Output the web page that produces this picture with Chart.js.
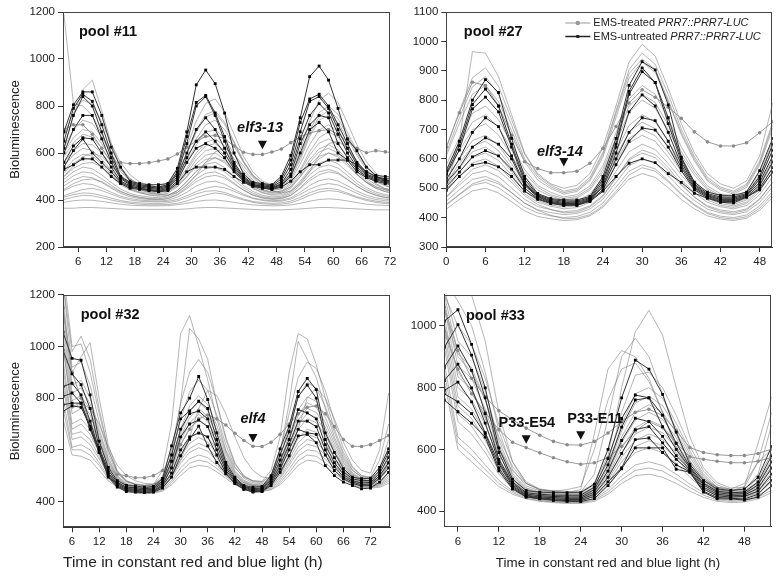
<!DOCTYPE html>
<html>
<head>
<meta charset="utf-8">
<script src="https://cdn.jsdelivr.net/npm/chart.js@4.4.0/dist/chart.umd.min.js"></script>
<style>
    body { margin: 0; background: #fff; width: 780px; height: 578px; position: relative; overflow: hidden; }
    canvas { position: absolute; }
</style>
</head>
<body>
<canvas id="c11" width="400" height="285" style="left:0;top:0"></canvas>
<canvas id="c27" width="390" height="285" style="left:390px;top:0"></canvas>
<canvas id="c32" width="400" height="293" style="left:0;top:285px"></canvas>
<canvas id="c33" width="390" height="293" style="left:390px;top:285px"></canvas>
<script>
// ---- pool #11 ----
const times11 = [3,5,7,9,11,13,15,17,19,21,23,25,27,29,31,33,35,37,39,41,43,45,47,49,51,53,55,57,59,61,63,65,67,69,71,73];
const xTicks11 = [6,12,18,24,30,36,42,48,54,60,66,72];
const yTicks11 = [200,400,600,800,1000,1200];
const gray11 = [
    [365,365,368,368,366,364,362,360,360,360,360, 360,360,362,366,368,368,366,364,362,360,358,358, 358,360,362,365,368,368,366,364,362,360,358,358,358],
    [390,397,400,399,394,388,382,378,376,375,375, 376,380,386,394,399,400,396,390,384,379,377,375, 376,379,386,395,402,405,402,396,389,382,379,377,376],
    [402,412,420,418,410,400,392,386,382,380,380, 381,386,396,410,422,430,425,412,400,390,384,381, 382,388,402,420,434,440,436,424,410,398,390,385,382],
    [412,423,430,428,419,408,398,391,388,386,385, 388,396,410,426,437,440,432,418,404,394,389,386, 388,395,411,431,445,450,444,429,414,403,395,390,388],
    [418,432,445,450,440,425,410,400,395,393,392, 394,402,418,436,450,458,452,437,420,406,398,394, 395,404,424,446,462,470,464,447,428,412,402,397,395],
    [440,459,470,466,451,433,416,406,400,397,395, 399,412,433,459,476,480,467,446,425,409,401,397, 399,409,433,462,482,490,481,460,438,421,409,403,400],
    [445,470,485,490,478,455,434,420,410,405,402, 406,421,448,478,498,505,494,468,442,422,410,405, 407,420,448,482,507,520,512,486,458,436,420,411,407],
    [460,485,500,495,475,450,428,414,406,402,400, 406,424,454,490,514,520,502,472,442,420,408,402, 405,420,452,491,520,530,517,488,459,435,420,410,407],
    [474,503,520,514,491,463,437,421,412,407,405, 412,432,466,506,533,540,520,486,452,428,414,408, 411,427,463,507,538,550,536,504,470,444,427,417,412],
    [488,520,540,533,507,475,446,428,418,413,410, 418,440,478,522,552,560,538,500,462,436,420,413, 416,434,474,522,557,570,554,519,482,453,434,423,418],
    [500,535,555,560,540,505,470,447,432,421,416, 420,440,478,522,560,580,565,525,480,448,430,420, 422,440,480,530,575,600,590,555,510,475,450,435,428],
    [516,556,580,572,540,500,465,442,430,423,420, 429,456,501,555,591,600,573,528,483,451,433,424, 428,450,500,560,604,620,600,556,510,474,450,436,430],
    [500,545,585,600,585,545,500,465,445,432,424, 422,432,462,505,560,605,620,595,545,495,460,440, 430,438,468,520,590,640,650,620,565,510,470,448,438],
    [527,570,595,587,553,510,473,449,435,428,425, 435,464,513,571,610,620,591,542,493,458,439,429, 433,457,509,572,618,635,614,568,520,482,457,442,436],
    [544,592,620,611,573,525,483,457,441,434,430, 441,472,525,588,630,640,609,556,504,466,445,434, 439,465,522,591,642,660,637,586,534,492,465,448,442],
    [560,610,640,635,600,550,500,468,450,440,436, 445,478,535,600,645,660,630,575,520,478,455,442, 446,472,530,605,665,690,668,618,560,512,478,460,450],
    [584,644,680,668,620,560,507,474,454,445,440, 453,492,557,635,687,700,661,596,531,484,458,445, 451,482,552,636,698,720,692,630,566,516,482,462,454],
    [600,665,700,690,640,580,520,482,462,450,446, 456,500,570,660,720,740,700,630,560,500,468,452, 456,490,570,670,740,760,730,660,590,530,492,470,460],
    [624,697,740,726,668,595,531,491,467,456,450, 466,516,598,698,764,780,730,648,566,506,473,457, 464,503,590,695,772,800,765,688,608,545,503,478,468],
    [677,770,825,807,733,640,559,507,477,462,455, 474,530,624,736,811,830,774,680,586,519,481,463, 471,515,615,735,823,855,815,727,635,563,515,487,475],
    [1190,810,800,760,680,600,530,480,455,440,435, 438,460,498,543,573,580,558,520,483,456,441,433, 437,456,498,549,586,600,583,546,507,476,456,444,439],
    [620,760,870,910,780,640,540,490,465,455,450, 466,514,594,690,754,770,722,642,562,504,472,456, 463,500,582,681,754,780,747,674,599,539,500,476,467]
];
const black11 = [
    [690,805,860,860,760,625,540,480,470,465,465, 470,535,690,890,953,895,770,600,510,475,470,465, 500,590,750,925,970,910,790,660,610,540,505,500,495],
    [650,790,850,820,720,600,500,475,465,460,455, 465,520,670,815,845,770,670,560,500,470,465,460, 490,570,730,830,850,800,720,640,560,520,500,490,490],
    [620,760,840,800,690,580,495,470,460,455,450, 460,510,640,800,840,760,650,550,495,465,460,455, 480,550,690,820,840,790,700,620,550,510,495,485,480],
    [600,700,760,760,660,560,490,465,455,450,445, 455,500,600,700,750,700,620,540,490,465,458,452, 470,530,660,760,810,770,680,600,540,505,490,480,475],
    [560,630,665,660,600,540,480,460,450,445,440, 450,490,580,650,690,650,600,530,485,462,455,450, 465,510,640,720,760,750,640,580,530,500,485,475,470],
    [540,610,660,600,560,520,475,455,448,442,438, 445,480,560,620,640,620,580,520,480,460,452,447, 460,500,600,700,730,690,600,570,520,495,480,470,465],
    [530,550,575,575,540,500,470,450,445,440,435, 440,470,520,540,540,540,530,500,475,458,450,445, 455,480,520,550,550,570,570,570,550,520,500,485,480]
];
const mutant11 = [700,720,720,680,620,563,559,555,555,559,566, 575,596,625,650,670,675,660,630,603,594,594,604, 617,644,669,685,695,700,680,650,620,601,610,605,600];

// ---- pool #27 ----
const times27 = [0,2,4,6,8,10,12,14,16,18,20,22,24,26,28,30,32,34,36,38,40,42,44,46,48,50];
const xTicks27 = [0,6,12,18,24,30,36,42,48];
const yTicks27 = [300,400,500,600,700,800,900,1000,1100];
const gray27 = [
    [429,462,491,500,484,454,423,404,396,390,393,406,435,483,531,550,537,502,462,430,406,395,390,398,425,470],
    [442,478,510,520,502,470,436,416,406,400,404,418,450,504,558,580,566,526,481,445,418,405,400,409,440,490],
    [445,480,515,530,515,485,450,425,408,396,398,410,440,490,545,570,558,522,478,442,414,400,395,403,432,480],
    [456,495,530,540,521,485,449,427,417,410,414,429,463,520,577,600,585,543,496,458,429,416,410,420,452,505],
    [469,511,549,560,539,501,462,438,427,420,424,440,476,536,596,620,604,560,510,470,440,426,420,430,464,520],
    [470,520,565,580,560,520,475,445,428,416,419,436,472,535,600,630,615,570,515,470,437,421,415,426,462,520],
    [490,541,586,600,575,529,481,452,439,430,434,452,492,558,624,650,632,584,529,485,452,437,430,441,478,540],
    [495,555,605,620,595,545,490,458,443,436,440,460,505,580,655,680,660,605,545,495,460,442,435,448,488,560],
    [510,570,624,640,610,556,500,466,450,440,445,466,513,591,669,700,679,622,557,505,466,448,440,453,497,570],
    [518,585,643,660,628,570,510,474,456,445,450,473,524,608,692,725,703,641,572,515,473,453,445,460,507,585],
    [531,600,662,680,646,583,519,480,462,450,456,480,534,624,714,750,726,660,585,525,480,459,450,465,516,600],
    [551,629,699,720,681,611,538,494,473,460,467,494,555,657,759,800,773,698,613,545,494,470,460,477,535,630],
    [565,650,725,750,708,630,552,503,478,465,472,500,565,672,780,820,792,715,625,555,500,475,465,482,545,645],
    [579,672,755,780,734,650,563,510,486,470,478,508,576,690,804,850,820,736,641,565,508,481,470,489,554,660],
    [610,721,820,850,795,695,591,528,499,480,489,525,606,741,876,930,894,795,683,593,525,494,480,503,579,705],
    [620,740,845,880,820,715,600,538,505,485,494,530,615,755,890,940,905,800,690,600,530,499,485,509,586,715],
    [637,763,876,910,847,734,616,545,511,490,499,537,622,763,904,960,922,819,702,608,537,504,490,514,593,725],
    [500,660,965,960,880,750,620,550,515,500,510,550,640,780,930,990,950,840,720,620,550,515,500,525,610,790]
];
const black27 = [
    [560,660,800,870,826,670,540,482,465,460,460,472,540,670,850,931,903,784,606,521,487,476,476,487,560,670],
    [550,645,785,838,780,650,530,478,462,456,456,468,530,650,830,910,860,740,600,515,482,470,470,482,540,650],
    [545,630,770,810,760,640,520,475,458,452,452,465,520,640,820,897,860,720,590,510,478,466,466,478,530,630],
    [530,600,690,740,710,610,515,472,455,448,448,462,510,620,760,818,780,690,580,505,475,462,462,475,520,610],
    [520,570,640,672,650,600,510,470,452,445,445,460,505,600,690,740,730,660,570,500,472,458,458,472,510,590],
    [505,555,607,628,610,565,500,465,450,443,443,458,495,580,660,705,698,640,560,495,468,455,455,470,500,570],
    [493,540,579,588,573,540,490,462,448,442,442,455,490,540,585,600,587,550,520,483,466,452,450,470,495,555]
];
const mutant27 = [640,757,861,850,780,680,590,567,553,553,558,585,636,710,790,835,810,776,738,692,658,644,644,655,689,727];

// ---- pool #32 ----
const times32 = [4,6,8,10,12,14,16,18,20,22,24,26,28,30,32,34,36,38,40,42,44,46,48,50,52,54,56,58,60,62,64,66,68,70,72,74,76];
const xTicks32 = [6,12,18,24,30,36,42,48,54,60,66,72];
const yTicks32 = [400,600,800,1000,1200];
const gray32 = [
    [720,580,575,560,520,480,455,440,432,430, 432,440,465,500,530,540,535,515,490,465, 448,440,438,445,465,500,540,560,555,535, 510,485,465,455,452,455,470],
    [760,600,600,580,540,488,458,442,435,432, 434,444,472,515,548,560,552,528,498,470, 451,442,440,448,472,512,558,580,575,550, 520,492,470,458,455,459,478],
    [800,610,620,600,550,495,462,445,437,435, 437,448,480,530,565,580,570,540,505,475, 455,445,443,452,480,525,575,600,595,565, 530,498,475,462,458,463,485],
    [850,640,650,620,565,505,468,448,440,438, 440,452,490,548,590,608,595,558,513,480, 458,448,446,456,488,540,595,622,612,580, 540,503,478,465,460,466,492],
    [880,660,670,640,575,510,470,450,442,440, 442,455,495,560,605,625,610,570,520,484, 460,450,448,460,495,550,610,640,630,595, 550,510,483,468,463,470,500],
    [920,680,700,660,590,518,474,453,445,442, 444,458,502,575,625,648,630,585,530,488, 462,452,450,463,503,562,628,660,648,610, 560,516,486,470,465,473,508],
    [950,700,720,680,600,525,478,455,447,444, 446,462,510,590,645,670,650,600,538,492, 465,454,452,466,510,575,645,680,668,625, 570,522,490,473,468,477,515],
    [1000,740,760,715,625,540,485,460,451,448, 450,468,525,620,685,715,690,630,555,500, 470,458,456,472,525,600,680,720,705,655, 590,535,497,478,472,484,530],
    [1050,765,785,735,638,548,488,462,453,450, 452,472,532,635,705,738,710,645,563,504, 472,460,458,475,532,612,698,740,725,672, 600,540,500,480,474,487,538],
    [1100,790,810,755,650,555,492,465,455,452, 454,475,540,650,725,760,730,660,572,508, 475,462,460,478,540,625,715,760,745,688, 612,548,504,483,476,490,545],
    [1150,820,840,778,665,562,496,467,457,454, 456,478,548,665,748,785,752,678,585,514, 478,464,462,481,548,640,735,782,765,705, 625,555,508,485,478,493,552],
    [1200,850,870,800,680,570,500,470,460,456, 458,482,555,680,770,810,775,695,595,520, 482,467,464,485,555,655,755,805,788,725, 638,563,512,488,480,497,560],
    [1250,920,940,850,710,585,508,476,465,460, 462,490,575,720,825,870,830,735,620,535, 490,472,468,492,575,690,805,860,840,768, 668,580,522,494,485,505,580],
    [1300,1000,1010,900,740,600,515,480,468,463, 466,498,600,780,900,950,900,785,650,550, 497,477,473,500,600,740,880,940,915,830, 710,605,535,500,490,515,610],
    [1250,980,1040,950,760,600,515,478,466,462, 466,520,700,1050,1120,1000,870,720,600,530, 495,480,478,520,650,900,1050,1030,930,800, 680,590,530,500,495,560,700],
    [1150,900,960,1015,800,620,520,480,466,462, 464,490,580,780,1070,1030,950,780,640,545, 500,480,477,500,590,780,1020,950,880,760, 650,570,520,495,490,530,640],
    [1000,760,780,760,700,610,540,500,480,470, 468,475,500,560,650,760,830,810,740,650, 570,520,495,490,510,570,680,800,840,800, 720,630,560,520,510,600,820]
];
const black32 = [
    [1056,954,947,813,634,532,481,462,460,455, 458,489,615,743,800,884,795,666,551,494, 462,455,458,500,604,692,826,877,833,666, 590,527,494,488,490,532,604],
    [986,894,852,760,610,520,475,455,453,450, 452,480,580,720,751,788,760,640,540,488, 458,450,452,490,580,670,807,851,800,640, 570,515,488,480,482,520,590],
    [845,858,813,711,600,510,470,450,448,445, 447,472,555,680,740,750,720,620,530,482, 455,446,448,482,560,640,756,743,720,620, 550,505,480,472,474,510,570],
    [807,820,781,679,590,505,465,446,444,440, 442,465,530,650,700,715,690,600,520,478, 452,442,444,475,540,620,711,711,690,600, 535,495,475,465,468,500,550],
    [775,781,781,690,600,500,460,442,440,436, 438,460,510,600,650,665,650,580,510,472, 448,438,440,468,525,600,679,666,660,580, 520,488,470,460,462,490,530],
    [749,770,765,690,590,494,456,438,436,434, 436,452,494,577,641,692,615,551,507,469, 447,436,438,462,513,577,654,660,628,539, 500,475,462,449,452,475,513]
];
const mutant32 = [1150,900,800,700,600,530,505,500,492,492, 500,520,560,620,680,720,735,720,696,664, 636,614,613,629,660,700,740,765,770,740, 690,640,614,613,620,636,655];

// ---- pool #33 ----
const times33 = [4,6,8,10,12,14,16,18,20,22,24,26,28,30,32,34,36,38,40,42,44,46,48,50,52];
const xTicks33 = [6,12,18,24,30,36,42,48];
const yTicks33 = [400,600,800,1000];
const gray33 = [
    [820,600,560,520,480,455,440,432,428,425, 425,432,455,490,515,520,510,490,465,445, 432,428,430,440,460],
    [850,620,580,535,490,460,443,434,430,428, 428,436,462,502,532,540,530,505,477,452, 437,432,434,445,468],
    [880,640,600,550,500,465,447,437,432,430, 430,440,470,515,550,560,548,520,488,460, 442,436,438,450,478],
    [930,690,650,590,520,475,452,442,437,435, 435,448,485,545,590,605,590,555,510,472, 450,443,444,458,495],
    [955,715,675,610,532,481,455,444,439,437, 437,451,492,560,610,628,612,572,520,478, 454,446,447,462,502],
    [980,740,700,630,545,487,458,447,442,440, 440,455,500,575,630,650,632,590,532,484, 458,449,450,466,510],
    [1005,770,730,655,558,492,461,449,444,442, 442,458,507,590,650,672,654,606,542,490, 462,452,453,470,518],
    [1030,800,760,680,570,498,464,452,447,445, 445,462,515,605,670,695,675,622,552,495, 465,455,456,475,525],
    [1060,835,795,705,585,504,467,454,449,447, 447,466,522,622,695,720,698,638,563,502, 468,457,459,480,535],
    [1080,870,830,730,600,510,470,457,452,450, 450,470,530,640,720,745,720,655,575,508, 472,460,462,485,545],
    [1100,910,865,760,615,516,473,459,454,452, 452,474,538,660,750,772,742,670,585,514, 475,462,464,490,555],
    [1120,950,900,790,630,522,476,462,457,455, 455,478,545,680,780,800,765,685,595,520, 478,465,467,495,565],
    [1150,1080,1000,850,660,535,482,466,461,459, 459,485,560,720,840,850,800,710,610,530, 485,470,472,505,590],
    [1150,1100,1100,950,720,560,490,470,465,462, 462,520,700,900,960,900,780,650,560,505, 478,468,470,520,680],
    [1100,1000,940,830,680,560,495,472,466,464, 464,490,580,800,980,1050,970,800,640,540, 492,475,478,560,720],
    [1050,900,850,760,640,545,490,470,462,460, 470,650,860,920,900,830,720,600,530,490, 470,465,480,620,770],
    [1000,850,790,700,600,530,490,470,465,470, 480,600,760,860,880,820,720,610,540,500, 478,472,490,560,600]
];
const black33 = [
    [1015,1052,940,799,605,504,467,462,460,460, 460,488,600,767,889,860,778,656,552,499, 472,467,472,510,610],
    [930,1004,905,767,590,495,460,455,452,452, 452,478,570,700,776,767,711,620,545,490, 465,460,462,495,580],
    [866,935,856,716,568,490,456,450,448,446, 446,470,550,672,760,767,674,600,540,485, 460,455,457,485,560],
    [823,876,799,685,560,485,452,446,444,442, 442,462,530,629,701,690,642,580,535,478, 455,450,452,475,540],
    [791,818,754,654,554,480,450,443,440,438, 438,455,510,587,664,674,621,568,530,472, 450,446,448,465,520],
    [780,754,716,650,540,476,447,441,437,434, 434,448,495,540,632,637,590,550,528,465, 445,442,440,455,500],
    [760,722,685,640,531,472,446,440,435,432, 431,441,483,537,605,605,605,536,526,462, 440,440,436,446,483]
];
const mutantE54 = [1060,920,830,770,725,696,669,646,626,615, 614,626,653,690,720,730,710,660,606,590, 583,580,580,587,601];
const mutantE11 = [980,860,780,720,664,623,606,589,573,560, 552,557,573,610,660,690,670,620,576,568, 562,557,557,562,574];

const FONT = '"Liberation Sans", Arial, sans-serif';
const X_TITLE = 'Time in constant red and blue light (h)';
const Y_TITLE = 'Bioluminescence';

function pts(times, values) {
    return values.map((v, i) => ({x: times[i], y: v}));
}

const notesPlugin = {
    id: 'notes',
    afterDatasetsDraw(chart, args, opts) {
        const {ctx, chartArea: area, scales: {x, y}} = chart;
        ctx.save();
        ctx.strokeStyle = '#444';
        ctx.lineWidth = 1;
        ctx.strokeRect(Math.round(area.left) + 0.5, Math.round(area.top) + 0.5,
            Math.round(area.width) - 1, Math.round(area.height) - 1);
        ctx.fillStyle = '#111';
        ctx.font = 'bold 14.5px ' + FONT;
        ctx.textAlign = 'left';
        ctx.textBaseline = 'alphabetic';
        ctx.fillText(opts.pool, area.left + opts.poolDx, area.top + opts.poolDy);
        opts.marks.forEach(m => {
            ctx.font = (m.italic ? 'italic ' : '') + 'bold 14.5px ' + FONT;
            ctx.textAlign = 'center';
            ctx.textBaseline = 'middle';
            ctx.fillText(m.text, x.getPixelForValue(m.tx), y.getPixelForValue(m.ty));
            const px = x.getPixelForValue(m.ax), py = y.getPixelForValue(m.ay);
            ctx.beginPath();
            ctx.moveTo(px - 4.5, py - 4);
            ctx.lineTo(px + 4.5, py - 4);
            ctx.lineTo(px, py + 4.5);
            ctx.closePath();
            ctx.fill();
        });
        if (opts.legend) {
            const lg = opts.legend;
            const rows = [
                {pre: 'EMS-treated ', color: '#999', marker: 'circle'},
                {pre: 'EMS-untreated ', color: '#222', marker: 'rect'}
            ];
            rows.forEach((r, i) => {
                const ly = area.top + lg.y + i * lg.dy;
                const lx = area.left + lg.x;
                ctx.strokeStyle = r.color;
                ctx.lineWidth = i ? 1.5 : 1;
                ctx.beginPath();
                ctx.moveTo(lx, ly);
                ctx.lineTo(lx + 25, ly);
                ctx.stroke();
                ctx.fillStyle = r.color;
                if (r.marker === 'circle') {
                    ctx.beginPath();
                    ctx.arc(lx + 12.5, ly, 2.3, 0, Math.PI * 2);
                    ctx.fill();
                } else {
                    ctx.fillRect(lx + 11, ly - 1.5, 3, 3);
                }
                ctx.fillStyle = '#222';
                ctx.textAlign = 'left';
                ctx.textBaseline = 'middle';
                ctx.font = '11px ' + FONT;
                ctx.fillText(r.pre, lx + 28, ly);
                const w = ctx.measureText(r.pre).width;
                ctx.font = 'italic 11px ' + FONT;
                ctx.fillText('PRR7::PRR7-LUC', lx + 28 + w, ly);
            });
        }
        ctx.restore();
    }
};

function drawPanel(id, p) {
    const datasets = [];
    p.gray.forEach(v => datasets.push({
        data: pts(p.times, v), borderColor: 'rgba(110,110,110,0.5)', borderWidth: 1,
        pointRadius: 0, order: 3
    }));
    p.mutants.forEach(v => datasets.push({
        data: pts(p.times, v), borderColor: '#9a9a9a', borderWidth: 1,
        pointRadius: 1.8, pointBackgroundColor: '#8a8a8a', pointBorderWidth: 0, order: 2
    }));
    p.black.forEach(v => datasets.push({
        data: pts(p.times, v), borderColor: '#333', borderWidth: 1,
        pointStyle: 'rect', pointRadius: 2, pointBackgroundColor: '#000', pointBorderWidth: 0, order: 1
    }));
    return new Chart(document.getElementById(id), {
        type: 'line',
        data: {datasets},
        options: {
            responsive: false,
            animation: false,
            events: [],
            layout: {padding: p.pad},
            plugins: {legend: {display: false}, tooltip: {enabled: false}, notes: p.notes},
            scales: {
                x: {
                    type: 'linear', min: p.xMin, max: p.xMax,
                    afterBuildTicks: s => { s.ticks = p.xTicks.map(v => ({value: v})); },
                    afterFit: s => { s.height = p.xAxisH; },
                    ticks: {autoSkip: false, maxRotation: 0, padding: 3, color: '#222', font: {family: FONT, size: 11.5}, callback: v => String(v)},
                    grid: {drawOnChartArea: false, tickLength: 5, tickColor: '#333'},
                    border: {color: '#333', width: 1},
                    title: p.xTitle ? {
                        display: true, text: X_TITLE, align: p.xTitle.align, color: '#222',
                        font: {family: FONT, size: p.xTitle.size}, padding: {top: 0, bottom: p.xTitle.pb}
                    } : {display: false}
                },
                y: {
                    min: p.yMin, max: p.yMax,
                    afterBuildTicks: s => { s.ticks = p.yTicks.map(v => ({value: v})); },
                    afterFit: s => { s.width = p.yAxisW; },
                    ticks: {padding: 3, color: '#222', font: {family: FONT, size: 11.5}, callback: v => String(v)},
                    grid: {drawOnChartArea: false, tickLength: 5, tickColor: '#333'},
                    border: {color: '#333', width: 1},
                    title: p.yTitle ? {
                        display: true, text: Y_TITLE, color: '#222',
                        font: {family: FONT, size: 13}, padding: {top: 7.2, bottom: 0}
                    } : {display: false}
                }
            }
        },
        plugins: [notesPlugin]
    });
}

drawPanel('c11', {
    times: times11, gray: gray11, black: black11, mutants: [mutant11],
    xMin: 2.8, xMax: 72, yMin: 200, yMax: 1200, xTicks: xTicks11, yTicks: yTicks11,
    pad: {left: 0, top: 12, right: 10, bottom: 0}, yAxisW: 63, xAxisH: 38, yTitle: true,
    notes: {pool: 'pool #11', poolDx: 16, poolDy: 23.5,
        marks: [{text: 'elf3-13', italic: true, tx: 44.5, ty: 707, ax: 45, ay: 635}]}
});
drawPanel('c27', {
    times: times27, gray: gray27, black: black27, mutants: [mutant27],
    xMin: 0, xMax: 50, yMin: 300, yMax: 1100, xTicks: xTicks27, yTicks: yTicks27,
    pad: {left: 0, top: 12, right: 7.3, bottom: 0}, yAxisW: 56.3, xAxisH: 38,
    notes: {pool: 'pool #27', poolDx: 17.5, poolDy: 24,
        marks: [{text: 'elf3-14', italic: true, tx: 17.4, ty: 623, ax: 18, ay: 589}],
        legend: {x: 119, y: 11, dy: 13.5}}
});
drawPanel('c32', {
    times: times32, gray: gray32, black: black32, mutants: [mutant32],
    xMin: 4, xMax: 76.3, yMin: 300, yMax: 1200, xTicks: xTicks32, yTicks: yTicks32,
    pad: {left: 0, top: 7.3, right: 10, bottom: 0}, yAxisW: 63, xAxisH: 50.7, yTitle: true,
    xTitle: {align: 'start', size: 15.5, pb: 5.7},
    notes: {pool: 'pool #32', poolDx: 17.7, poolDy: 24,
        marks: [{text: 'elf4', italic: true, tx: 46, ty: 719, ax: 46, ay: 646}]}
});
drawPanel('c33', {
    times: times33, gray: gray33, black: black33, mutants: [mutantE54, mutantE11],
    xMin: 4, xMax: 52, yMin: 350, yMax: 1100, xTicks: xTicks33, yTicks: yTicks33,
    pad: {left: 0, top: 6, right: 8.3, bottom: 0}, yAxisW: 54.3, xAxisH: 51.3,
    xTitle: {align: 'center', size: 13.4, pb: 7},
    notes: {pool: 'pool #33', poolDx: 21.7, poolDy: 25,
        marks: [
            {text: 'P33-E54', italic: false, tx: 16.1, ty: 687, ax: 16, ay: 633},
            {text: 'P33-E11', italic: false, tx: 26.1, ty: 700, ax: 24, ay: 646}
        ]}
});
</script>
</body>
</html>
